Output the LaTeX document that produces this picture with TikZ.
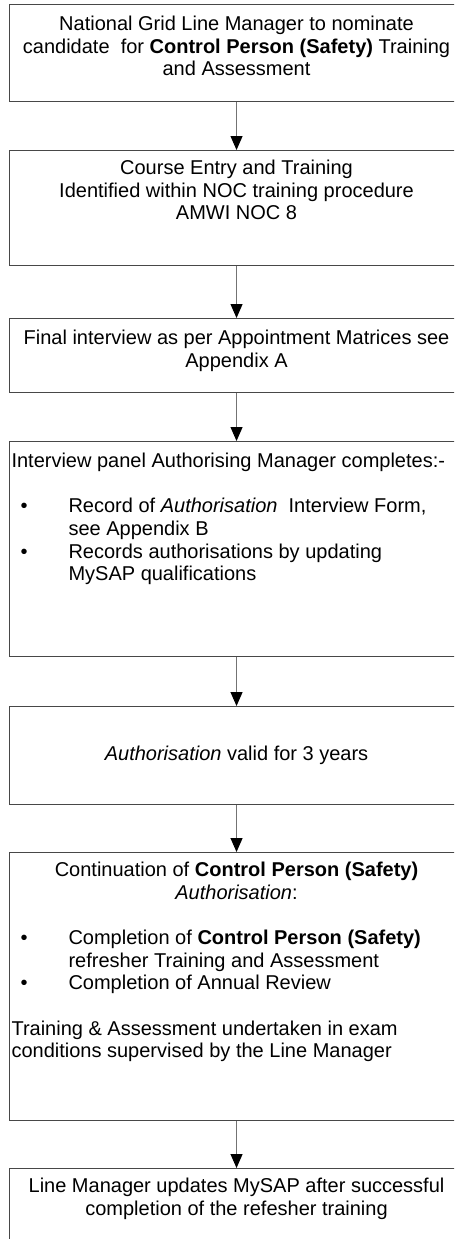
\documentclass[tikz,border=0pt]{standalone}
\usepackage{fontspec}
\setmainfont{Liberation Sans}
\usepackage{tikz}
\usetikzlibrary{arrows.meta}

\newlength\px
\setlength\px{0.75pt}

% frame contents: height, inner position, top pad, text
\newcommand{\boxtext}[4]{\parbox[t][#1][#2]{454\px}{\fontsize{15pt}{17pt}\selectfont\vspace*{#3}#4}}
% bulleted line with hanging indent
\newcommand{\flowbullet}[1]{\par\hangindent=57\px\hangafter=1\noindent\makebox[57\px][l]{\hspace{9\px}\textbullet}#1\par}

\begin{document}
\begin{tikzpicture}[x=0.75pt,y=-0.75pt]
        \tikzset{
            stepbox/.style={draw=black!72, line width=0.8pt, inner sep=0pt, anchor=north west},
            flow/.style={draw=black!55, line width=0.8pt, -{Triangle[length=10.5pt,width=9pt,color=black]}}
        }
        % page
        \clip (0,0) rectangle (454,1239);
        \useasboundingbox (0,0) rectangle (454,1239);

        % Nomination
        \node[stepbox] (nominate) at (9,4) {\boxtext{97\px}{t}{10\px}{\centering\strut
            National Grid Line Manager to nominate\\
            candidate\ \ for \textbf{Control Person (Safety)} Training\\
            and Assessment}};

        % Course entry
        \node[stepbox] (course) at (9,150) {\boxtext{115\px}{t}{8\px}{\centering\strut
            Course Entry and Training\\
            Identified within NOC training procedure\\
            AMWI NOC 8}};

        % Final interview
        \node[stepbox] (interview) at (9,318) {\boxtext{74\px}{t}{10\px}{\centering\strut
            Final interview as per Appointment Matrices see\\
            Appendix A}};

        % Panel
        \node[stepbox] (panel) at (9,441) {\boxtext{215\px}{t}{10\px}{\raggedright\leftskip=2\px\strut
            Interview panel Authorising Manager completes:-\par
            \vspace{17pt}
            \flowbullet{Record of \textit{Authorisation}\ \ Interview Form,\newline see Appendix B}
            \flowbullet{Records authorisations by updating\newline MySAP qualifications}}};

        % Validity
        \node[stepbox] (valid) at (9,706) {\boxtext{98\px}{c}{0pt}{\centering\strut
            \textit{Authorisation} valid for 3 years}};

        % Continuation
        \node[stepbox] (continue) at (9,852) {\boxtext{268\px}{t}{8\px}{\raggedright\leftskip=2\px
            {\centering\strut Continuation of \textbf{Control Person (Safety)}\\
            \textit{Authorisation}:\par}
            \vspace{17pt}
            \flowbullet{Completion of \textbf{Control Person (Safety)}\newline refresher Training and Assessment}
            \flowbullet{Completion of Annual Review}
            \vspace{17pt}
            \noindent Training \& Assessment undertaken in exam\\
            conditions supervised by the Line Manager}};

        % Update
        \node[stepbox] (update) at (9,1168) {\boxtext{100\px}{t}{8\px}{\centering\strut
            Line Manager updates MySAP after successful\\
            completion of the refesher training}};

        % Arrows
        \draw[flow] (nominate.south) -- (course.north);
        \draw[flow] (course.south) -- (interview.north);
        \draw[flow] (interview.south) -- (panel.north);
        \draw[flow] (panel.south) -- (valid.north);
        \draw[flow] (valid.south) -- (continue.north);
        \draw[flow] (continue.south) -- (update.north);
    \end{tikzpicture}
\end{document}
